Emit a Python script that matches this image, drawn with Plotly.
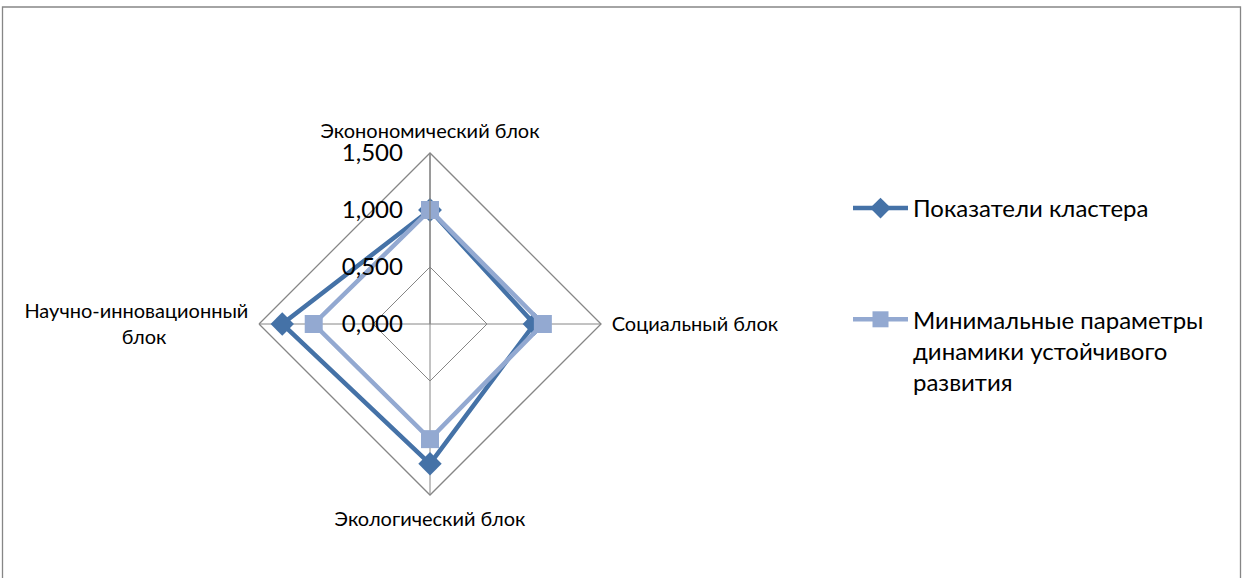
import plotly.graph_objects as go

categories = ["Эконономический блок", "Социальный блок", "Экологический блок", "Научно-инновационный блок"]
category_labels = ["Эконономический блок", "Социальный блок", "Экологический блок",
                   "Научно-инновационный<br>блок" + "\u00a0" * 16]
cluster_values = [1.0, 0.915, 1.226, 1.296]
minimal_values = [1.0, 0.99, 1.01, 1.02]
series_names = ["Показатели кластера", "Минимальные параметры<br>динамики устойчивого<br>развития"]
radial_ticks = [0.0, 0.5, 1.0, 1.5]

W, H = 1243, 578
font = "Lato, 'Open Sans', sans-serif"
grid = "#868686"

fig = go.Figure()
fig.add_trace(go.Scatterpolar(
    r=cluster_values + cluster_values[:1], theta=categories + categories[:1],
    mode="lines+markers", name=series_names[0], legendgroup="a",
    line=dict(color="#4572A7", width=4.5),
    marker=dict(symbol="diamond", size=18, color="#4572A7"),
))
fig.add_trace(go.Scatterpolar(
    r=minimal_values + minimal_values[:1], theta=categories + categories[:1],
    mode="lines+markers", name=series_names[1], legendgroup="b",
    line=dict(color="#93A9D1", width=4.5),
    marker=dict(symbol="square", size=18, color="#93A9D1"),
))

cx, cy, R = 430, 324, 171
fig.update_layout(
    width=W, height=H,
    margin=dict(l=0, r=0, t=0, b=0),
    paper_bgcolor="white",
    separators=", ",
    font=dict(family=font, color="#000000"),
    polar=dict(
        domain=dict(x=[(cx - R) / W, (cx + R) / W], y=[(H - cy - R) / H, (H - cy + R) / H]),
        gridshape="linear",
        bgcolor="white",
        angularaxis=dict(
            rotation=90, direction="clockwise",
            tickvals=categories, ticktext=category_labels,
            showline=True, linecolor=grid, linewidth=1.3,
            gridcolor=grid, gridwidth=1.3,
            ticks="outside", ticklen=6, tickcolor="rgba(0,0,0,0)",
            tickfont=dict(size=20, family=font),
        ),
        radialaxis=dict(
            range=[0, 1.5], tickvals=radial_ticks, tickformat=".3f",
            angle=90, tickangle=90, side="counterclockwise",
            showline=True, linecolor=grid, linewidth=1.3,
            gridcolor=grid, gridwidth=1.3,
            ticks="outside", ticklen=18, tickcolor="rgba(0,0,0,0)",
            tickfont=dict(size=24, family=font),
        ),
    ),
    legend=dict(
        x=848 / W, y=1 - 186 / H, xanchor="left", yanchor="top",
        font=dict(size=24, family=font), valign="top",
        tracegroupgap=77, itemwidth=55, bgcolor="rgba(0,0,0,0)",
    ),
    shapes=[dict(
        type="rect", xref="paper", yref="paper",
        x0=2.5 / W, x1=1240.5 / W, y0=-0.05, y1=1 - 7 / H,
        line=dict(color=grid, width=1.3), layer="below",
    )],
)

fig.write_html("out.html")
